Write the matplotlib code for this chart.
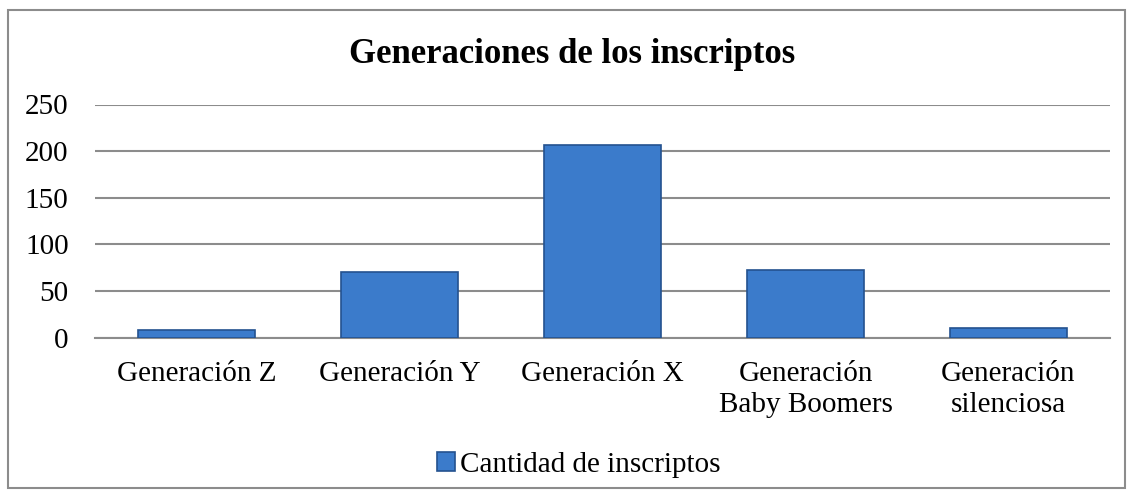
import matplotlib.pyplot as plt
from matplotlib.patches import Rectangle

categorias = ['Generación Z', 'Generación Y', 'Generación X',
              'Generación\nBaby Boomers', 'Generación\nsilenciosa']
inscriptos = [8, 70, 207, 72, 10]
serie = 'Cantidad de inscriptos'
yticks = [0, 50, 100, 150, 200, 250]

plt.rcParams['font.family'] = ['Liberation Serif', 'DejaVu Serif']

fig = plt.figure(figsize=(11.34, 4.96), dpi=100)
# marco exterior del grafico
fig.patches.append(Rectangle((8/1134, 8/496), 1117/1134, 478/496, transform=fig.transFigure,
                             fill=False, edgecolor='#8c8c8c', linewidth=1.5))

ax = fig.add_axes([95/1134, 1-337.5/496, 1015/1134, 233/496])
x = range(len(categorias))
ax.bar(x, inscriptos, width=0.58, color='#3b7bcb', edgecolor='#24528f', linewidth=1.2, zorder=3,
       label=serie)
ax.set_xlim(-0.5, len(categorias)-0.5)
ax.set_ylim(0, 250)
ax.set_yticks(yticks)
ax.yaxis.grid(True, color='#8c8c8c', linewidth=1.5, zorder=0)
for s in ['left', 'right', 'top']:
    ax.spines[s].set_visible(False)
ax.spines['bottom'].set_color('#8c8c8c')
ax.spines['bottom'].set_linewidth(1.5)
ax.set_xticks(list(x))
ax.set_xticklabels(categorias, fontsize=21, linespacing=1.22)
ax.tick_params(axis='y', length=0, labelsize=21, pad=19)
ax.tick_params(axis='x', length=0, pad=17)

fig.text(572/1134, 1-63/496, 'Generaciones de los inscriptos', ha='center', va='baseline',
         fontsize=25, fontweight='bold')
fig.legend(loc='center', bbox_to_anchor=(579/1134, 1-465/496), frameon=False, fontsize=21,
           handlelength=0.6, handleheight=0.6, handletextpad=0.2)

fig.savefig('out.png', dpi=100)
